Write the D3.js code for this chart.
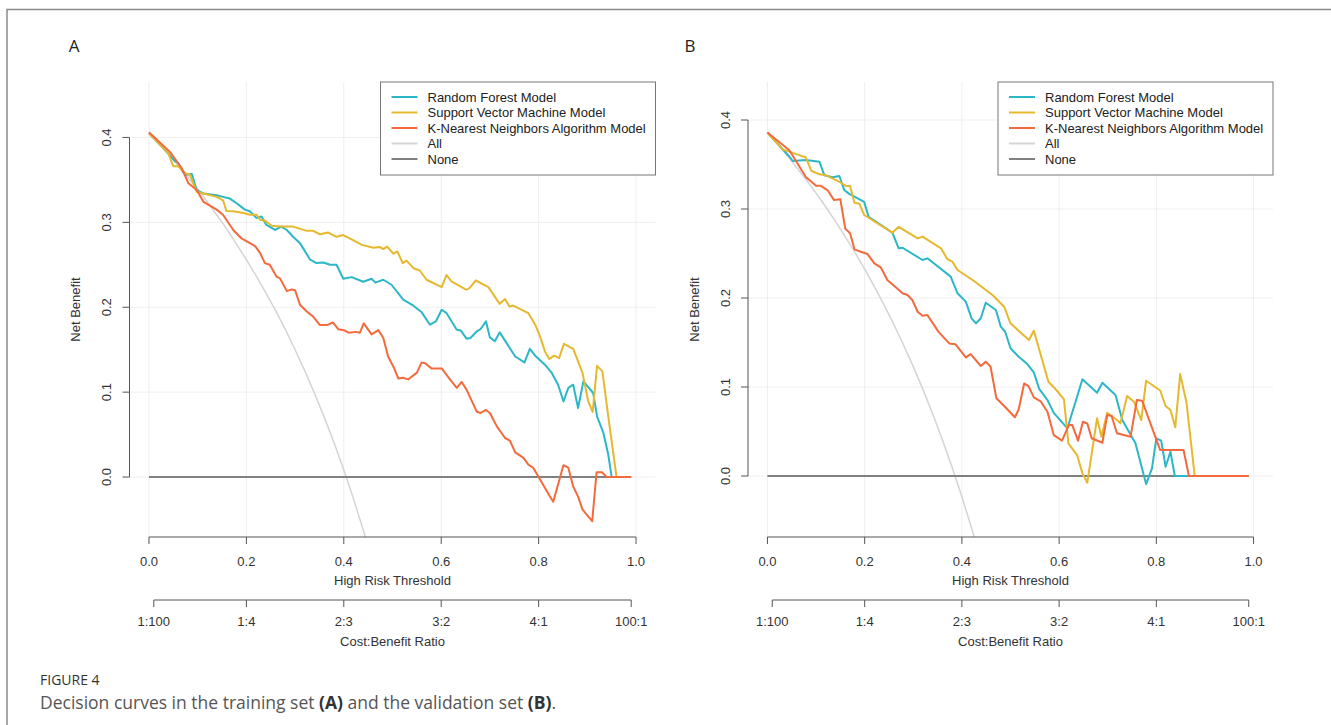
<!DOCTYPE html>
<html>
<head>
<meta charset="utf-8">
<script src="https://cdn.jsdelivr.net/npm/d3@7.8.5/dist/d3.min.js"></script>
<style>
  html, body { margin: 0; padding: 0; background: #fff; }
  svg { display: block; }
</style>
</head>
<body>
<div id="chart"></div>
<script>
// ---- data: [threshold, net benefit] ----
const seriesNames = ['Random Forest Model', 'Support Vector Machine Model', 'K-Nearest Neighbors Algorithm Model', 'All', 'None'];
const xTicks = [0, 0.2, 0.4, 0.6, 0.8, 1.0];
const yTicks = [0, 0.1, 0.2, 0.3, 0.4];
const ratioLabels = ['1:100', '1:4', '2:3', '3:2', '4:1', '100:1'];
const ratioThresholds = [0.0099, 0.2, 0.4, 0.6, 0.8, 0.9901];

// training set (A)
const rfTrain = [[0,0.405],[0.02,0.393],[0.04,0.381],[0.053,0.372],[0.06,0.370],[0.07,0.359],[0.077,0.356],[0.088,0.357],[0.098,0.338],[0.112,0.334],[0.139,0.332],[0.152,0.330],[0.166,0.328],[0.18,0.3225],[0.197,0.315],[0.207,0.313],[0.221,0.305],[0.231,0.307],[0.241,0.297],[0.259,0.291],[0.272,0.295],[0.283,0.291],[0.296,0.283],[0.31,0.2755],[0.331,0.256],[0.344,0.252],[0.358,0.2527],[0.372,0.25],[0.385,0.25],[0.399,0.2335],[0.416,0.2355],[0.44,0.230],[0.457,0.2335],[0.465,0.229],[0.481,0.2324],[0.498,0.2265],[0.522,0.209],[0.543,0.2018],[0.56,0.194],[0.577,0.1794],[0.589,0.1833],[0.601,0.197],[0.611,0.193],[0.632,0.1735],[0.64,0.1727],[0.652,0.163],[0.66,0.1638],[0.673,0.1715],[0.681,0.1744],[0.692,0.1833],[0.70,0.1645],[0.71,0.16],[0.72,0.1704],[0.734,0.158],[0.752,0.142],[0.771,0.135],[0.782,0.151],[0.793,0.143],[0.813,0.1324],[0.827,0.1226],[0.84,0.1088],[0.851,0.089],[0.861,0.105],[0.871,0.1088],[0.881,0.0814],[0.892,0.1127],[0.912,0.099],[0.92,0.0715],[0.933,0.052],[0.943,0.0265],[0.95,0],[0.99,0]];
const svmTrain = [[0,0.405],[0.02,0.393],[0.04,0.381],[0.05,0.366],[0.06,0.366],[0.067,0.362],[0.074,0.358],[0.084,0.356],[0.098,0.336],[0.112,0.334],[0.139,0.330],[0.152,0.326],[0.159,0.3135],[0.173,0.313],[0.194,0.311],[0.207,0.309],[0.221,0.309],[0.228,0.303],[0.238,0.302],[0.252,0.296],[0.269,0.295],[0.296,0.295],[0.324,0.29],[0.337,0.29],[0.351,0.286],[0.368,0.288],[0.385,0.283],[0.399,0.285],[0.419,0.279],[0.437,0.2735],[0.461,0.27],[0.474,0.271],[0.481,0.2685],[0.489,0.2715],[0.502,0.263],[0.51,0.2657],[0.521,0.252],[0.529,0.255],[0.543,0.246],[0.556,0.2433],[0.57,0.2324],[0.601,0.2237],[0.611,0.238],[0.621,0.2304],[0.652,0.2206],[0.658,0.2226],[0.671,0.2315],[0.697,0.2237],[0.72,0.204],[0.731,0.2096],[0.74,0.201],[0.748,0.202],[0.779,0.193],[0.793,0.1794],[0.803,0.1656],[0.813,0.148],[0.822,0.139],[0.832,0.143],[0.842,0.140],[0.852,0.157],[0.871,0.151],[0.89,0.123],[0.902,0.089],[0.911,0.0767],[0.92,0.131],[0.931,0.1245],[0.943,0.0715],[0.96,0],[0.99,0]];
const knnTrain = [[0,0.406],[0.043,0.383],[0.067,0.364],[0.081,0.346],[0.098,0.338],[0.112,0.324],[0.139,0.315],[0.152,0.309],[0.173,0.291],[0.19,0.281],[0.218,0.272],[0.228,0.264],[0.238,0.252],[0.248,0.25],[0.262,0.236],[0.269,0.234],[0.283,0.219],[0.293,0.221],[0.30,0.22],[0.31,0.203],[0.324,0.195],[0.337,0.189],[0.351,0.179],[0.365,0.179],[0.378,0.182],[0.389,0.174],[0.40,0.173],[0.41,0.170],[0.425,0.171],[0.433,0.17],[0.441,0.181],[0.457,0.168],[0.471,0.173],[0.481,0.164],[0.491,0.142],[0.502,0.130],[0.512,0.116],[0.521,0.117],[0.532,0.115],[0.55,0.123],[0.56,0.135],[0.567,0.134],[0.58,0.128],[0.601,0.128],[0.618,0.115],[0.632,0.105],[0.642,0.112],[0.652,0.103],[0.673,0.077],[0.681,0.0755],[0.692,0.079],[0.70,0.0755],[0.714,0.06],[0.731,0.046],[0.741,0.043],[0.752,0.029],[0.769,0.0226],[0.779,0.0147],[0.789,0.011],[0.803,-0.003],[0.823,-0.0226],[0.83,-0.029],[0.851,0.0139],[0.861,0.011],[0.871,-0.011],[0.881,-0.023],[0.89,-0.038],[0.90,-0.045],[0.91,-0.052],[0.919,0.0057],[0.93,0.0057],[0.94,0],[0.99,0]];
const allTrain = [[0,0.405],[0.02,0.393],[0.04,0.380],[0.06,0.367],[0.08,0.353],[0.10,0.339],[0.12,0.324],[0.14,0.308],[0.16,0.292],[0.18,0.274],[0.20,0.256],[0.22,0.237],[0.24,0.217],[0.26,0.196],[0.28,0.174],[0.30,0.150],[0.32,0.125],[0.34,0.0985],[0.36,0.0703],[0.38,0.0403],[0.40,0.0083],[0.42,-0.0259],[0.44,-0.0625],[0.46,-0.102]];
const noneTrain = [[0,0],[0.99,0]];

// validation set (B)
const rfValid = [[0,0.386],[0.045,0.359],[0.052,0.354],[0.079,0.355],[0.107,0.353],[0.117,0.338],[0.134,0.3356],[0.148,0.3371],[0.158,0.3213],[0.168,0.317],[0.182,0.313],[0.199,0.308],[0.208,0.2913],[0.257,0.2734],[0.27,0.2558],[0.278,0.2565],[0.319,0.2427],[0.329,0.2446],[0.377,0.224],[0.391,0.2053],[0.408,0.1959],[0.42,0.1772],[0.429,0.1716],[0.439,0.1772],[0.449,0.1947],[0.47,0.1865],[0.48,0.1678],[0.489,0.1621],[0.50,0.1435],[0.517,0.134],[0.535,0.1255],[0.548,0.1165],[0.559,0.098],[0.576,0.0854],[0.589,0.071],[0.617,0.0536],[0.648,0.1087],[0.678,0.0936],[0.689,0.1048],[0.716,0.091],[0.73,0.0629],[0.757,0.0367],[0.779,-0.009],[0.791,0.0086],[0.80,0.0424],[0.81,0.0397],[0.819,0.0105],[0.829,0.0273],[0.838,0],[0.99,0]];
const svmValid = [[0,0.386],[0.031,0.367],[0.079,0.358],[0.09,0.343],[0.107,0.339],[0.12,0.338],[0.148,0.3306],[0.162,0.3258],[0.17,0.3258],[0.179,0.307],[0.189,0.306],[0.199,0.2933],[0.257,0.2734],[0.27,0.28],[0.309,0.267],[0.319,0.269],[0.357,0.2558],[0.37,0.2438],[0.381,0.2405],[0.391,0.2315],[0.422,0.2202],[0.463,0.2034],[0.487,0.1902],[0.50,0.1716],[0.538,0.1528],[0.548,0.1633],[0.578,0.106],[0.593,0.0975],[0.61,0.086],[0.619,0.0367],[0.637,0.0236],[0.648,0.003],[0.658,-0.0075],[0.678,0.0648],[0.687,0.0442],[0.699,0.0711],[0.719,0.0629],[0.726,0.0592],[0.74,0.0899],[0.754,0.0835],[0.769,0.0629],[0.779,0.1071],[0.808,0.0961],[0.819,0.0787],[0.829,0.0742],[0.839,0.0547],[0.849,0.1146],[0.862,0.0826],[0.879,0],[0.99,0]];
const knnValid = [[0,0.386],[0.045,0.366],[0.079,0.336],[0.10,0.326],[0.11,0.326],[0.124,0.321],[0.137,0.31],[0.15,0.311],[0.16,0.278],[0.17,0.2727],[0.179,0.2547],[0.192,0.252],[0.206,0.2494],[0.22,0.239],[0.233,0.2345],[0.247,0.22],[0.264,0.212],[0.278,0.2053],[0.288,0.2034],[0.298,0.1978],[0.309,0.1846],[0.319,0.18],[0.329,0.181],[0.352,0.162],[0.374,0.149],[0.387,0.148],[0.408,0.1333],[0.418,0.137],[0.439,0.1236],[0.449,0.1285],[0.459,0.1228],[0.471,0.0873],[0.49,0.077],[0.509,0.066],[0.517,0.075],[0.528,0.104],[0.537,0.101],[0.548,0.0884],[0.562,0.084],[0.576,0.0723],[0.589,0.046],[0.606,0.0397],[0.62,0.0573],[0.627,0.0573],[0.639,0.0397],[0.649,0.061],[0.658,0.059],[0.667,0.0424],[0.689,0.0374],[0.699,0.0685],[0.708,0.0674],[0.719,0.048],[0.747,0.0442],[0.76,0.0854],[0.771,0.0846],[0.784,0.0648],[0.808,0.0292],[0.856,0.0292],[0.867,0],[0.99,0]];
const allValid = [[0,0.386],[0.02,0.3735],[0.04,0.3604],[0.06,0.3468],[0.08,0.3326],[0.10,0.3178],[0.12,0.3023],[0.14,0.2861],[0.16,0.269],[0.18,0.2512],[0.20,0.2325],[0.22,0.2128],[0.24,0.1921],[0.26,0.1703],[0.28,0.1472],[0.30,0.1229],[0.32,0.0971],[0.34,0.0697],[0.36,0.0406],[0.38,0.0097],[0.40,-0.0233],[0.42,-0.0586],[0.44,-0.0965]];
const noneValid = [[0,0],[0.99,0]];

const colors = ['#2cb7c8', '#e6b82e', '#f46a3c', '#d4d4d4', '#808080'];

const W = 1331, H = 725;
const svg = d3.select('#chart').append('svg').attr('width', W).attr('height', H);
const chartFont = '"Liberation Sans", Arial, Helvetica, sans-serif';
const fs = '13px';

// figure frame
svg.append('path').attr('d', `M7,${H} V9.5 H${W}`)
    .attr('fill', 'none').attr('stroke', '#8a8a8a').attr('stroke-width', 1.5);

function drawPanel(opts) {
    const { left, right, top, bottom, yDomain, label, labelX, series, clipId } = opts;
    const x = d3.scaleLinear().domain([-0.04, 1.04]).range([left, right]);
    const y = d3.scaleLinear().domain(yDomain).range([bottom, top]);
    const g = svg.append('g');

    g.append('defs').append('clipPath').attr('id', clipId)
        .append('rect').attr('x', left).attr('y', top)
        .attr('width', right - left).attr('height', bottom - top);

    // grid
    g.append('g').selectAll('line.vx').data(xTicks).enter().append('line')
        .attr('x1', d => x(d)).attr('x2', d => x(d)).attr('y1', top).attr('y2', bottom)
        .attr('stroke', '#efefef').attr('stroke-width', 1);
    g.append('g').selectAll('line.hy').data(yTicks).enter().append('line')
        .attr('x1', left).attr('x2', right).attr('y1', d => y(d)).attr('y2', d => y(d))
        .attr('stroke', '#efefef').attr('stroke-width', 1);

    // curves: All, None first, then models with KNN on top
    const line = d3.line().x(d => x(d[0])).y(d => y(d[1]));
    const order = [3, 4, 0, 1, 2];
    const curves = g.append('g').attr('clip-path', `url(#${clipId})`);
    order.forEach(i => {
        curves.append('path').datum(series[i])
            .attr('d', line)
            .attr('fill', 'none')
            .attr('stroke', colors[i])
            .attr('stroke-width', i === 3 ? 1.5 : 2)
            .attr('stroke-linejoin', 'round');
    });

    const axisColor = '#555';
    const textColor = '#333';

    // y axis
    const yAxis = g.append('g');
    yAxis.append('line').attr('x1', left).attr('x2', left)
        .attr('y1', y(yTicks[0])).attr('y2', y(yTicks[yTicks.length - 1]))
        .attr('stroke', axisColor).attr('stroke-width', 1);
    yTicks.forEach(t => {
        yAxis.append('line').attr('x1', left - 7).attr('x2', left)
            .attr('y1', y(t)).attr('y2', y(t)).attr('stroke', axisColor);
        yAxis.append('text')
            .attr('transform', `translate(${left - 23},${y(t)}) rotate(-90)`)
            .attr('text-anchor', 'middle').attr('dy', '0.35em')
            .style('font-family', chartFont).style('font-size', fs).style('fill', textColor)
            .text(t.toFixed(1));
    });
    yAxis.append('text')
        .attr('transform', `translate(${left - 54},${(top + bottom) / 2}) rotate(-90)`)
        .attr('text-anchor', 'middle').attr('dy', '0.35em')
        .style('font-family', chartFont).style('font-size', fs).style('fill', textColor)
        .text('Net Benefit');

    // x axis (threshold)
    const xAxis = g.append('g');
    xAxis.append('line').attr('x1', x(0)).attr('x2', x(1)).attr('y1', bottom).attr('y2', bottom)
        .attr('stroke', axisColor);
    xTicks.forEach(t => {
        xAxis.append('line').attr('x1', x(t)).attr('x2', x(t)).attr('y1', bottom).attr('y2', bottom + 7)
            .attr('stroke', axisColor);
        xAxis.append('text').attr('x', x(t)).attr('y', 561).attr('dy', '0.35em')
            .attr('text-anchor', 'middle')
            .style('font-family', chartFont).style('font-size', fs).style('fill', textColor)
            .text(t.toFixed(1));
    });
    xAxis.append('text').attr('x', x(0.5)).attr('y', 580).attr('dy', '0.35em')
        .attr('text-anchor', 'middle')
        .style('font-family', chartFont).style('font-size', fs).style('fill', textColor)
        .text('High Risk Threshold');

    // second axis (cost:benefit ratio)
    const rAxis = g.append('g');
    const ry = 600;
    rAxis.append('line').attr('x1', x(ratioThresholds[0])).attr('x2', x(ratioThresholds[ratioThresholds.length - 1]))
        .attr('y1', ry).attr('y2', ry).attr('stroke', axisColor);
    ratioThresholds.forEach((t, i) => {
        rAxis.append('line').attr('x1', x(t)).attr('x2', x(t)).attr('y1', ry).attr('y2', ry + 7)
            .attr('stroke', axisColor);
        rAxis.append('text').attr('x', x(t)).attr('y', 621).attr('dy', '0.35em')
            .attr('text-anchor', 'middle')
            .style('font-family', chartFont).style('font-size', fs).style('fill', textColor)
            .text(ratioLabels[i]);
    });
    rAxis.append('text').attr('x', x(0.5)).attr('y', 641).attr('dy', '0.35em')
        .attr('text-anchor', 'middle')
        .style('font-family', chartFont).style('font-size', fs).style('fill', textColor)
        .text('Cost:Benefit Ratio');

    // legend (top right of plot region)
    const lw = 275, lh = 93;
    const lg = g.append('g').attr('transform', `translate(${right - lw},${top})`);
    lg.append('rect').attr('x', 0).attr('y', 0).attr('width', lw).attr('height', lh)
        .attr('fill', '#fff').attr('stroke', '#777').attr('stroke-width', 1);
    seriesNames.forEach((name, i) => {
        const yy = 15 + i * 15.5;
        lg.append('line').attr('x1', 11).attr('x2', 37).attr('y1', yy).attr('y2', yy)
            .attr('stroke', colors[i]).attr('stroke-width', 2);
        lg.append('text').attr('x', 47).attr('y', yy).attr('dy', '0.35em')
            .style('font-family', chartFont).style('font-size', fs).style('fill', '#222')
            .text(name);
    });

    // panel letter
    svg.append('text').attr('x', labelX).attr('y', 46).attr('dy', '0.35em')
        .attr('text-anchor', 'middle')
        .style('font-family', '"Open Sans", sans-serif').style('font-size', '17px').style('fill', '#222')
        .text(label);
}

drawPanel({ left: 129.5, right: 655.5, top: 82, bottom: 537, yDomain: [-0.0706, 0.4653],
    label: 'A', labelX: 74, clipId: 'clipA',
    series: [rfTrain, svmTrain, knnTrain, allTrain, noneTrain] });
drawPanel({ left: 748, right: 1273, top: 82, bottom: 537, yDomain: [-0.0685, 0.4427],
    label: 'B', labelX: 690, clipId: 'clipB',
    series: [rfValid, svmValid, knnValid, allValid, noneValid] });

// caption
svg.append('text').attr('x', 40).attr('y', 685)
    .style('font-family', '"Open Sans", sans-serif').style('font-size', '14px').style('fill', '#333')
    .text('FIGURE 4');
const cap = svg.append('text').attr('x', 40).attr('y', 709)
    .style('font-family', '"Open Sans", sans-serif').style('font-size', '17.5px').style('fill', '#555');
cap.append('tspan').text('Decision curves in the training set ');
cap.append('tspan').style('font-weight', 'bold').style('fill', '#333').text('(A)');
cap.append('tspan').text(' and the validation set ');
cap.append('tspan').style('font-weight', 'bold').style('fill', '#333').text('(B)');
cap.append('tspan').text('.');
</script>
</body>
</html>
